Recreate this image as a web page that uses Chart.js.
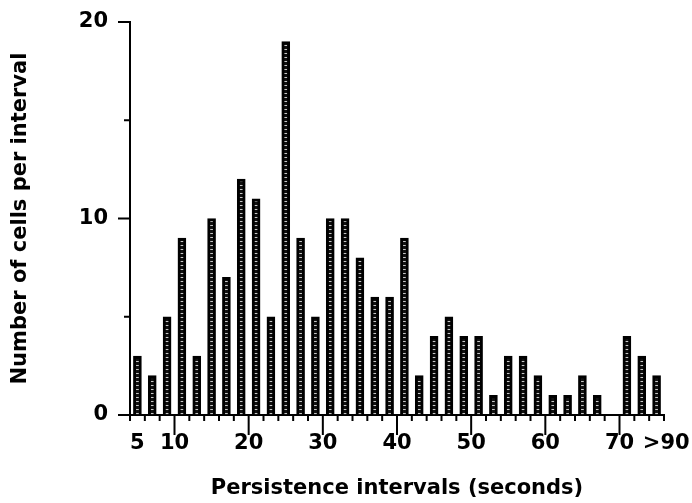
<!DOCTYPE html>
<html>
<head>
<meta charset="utf-8">
<script src="https://cdn.jsdelivr.net/npm/chart.js@4.4.1/dist/chart.umd.min.js"></script>
<style>
  html, body { margin: 0; padding: 0; background: #fff; }
  canvas { display: block; }
</style>
</head>
<body>
<canvas id="histChart" width="692" height="503"></canvas>
<script>
// Bin centres (seconds) and number of cells in each bin
const binCenters = [5, 7, 9, 11, 13, 15, 17, 19, 21, 23, 25, 27, 29, 31, 33, 35, 37, 39,
                    41, 43, 45, 47, 49, 51, 53, 55, 57, 59, 61, 63, 65, 67, 69, 71, 73, 75];
const cellCounts = [3, 2, 5, 9, 3, 10, 7, 12, 11, 5, 19, 9, 5, 10, 10, 8, 6, 6,
                    9, 2, 4, 5, 4, 4, 1, 3, 3, 2, 1, 1, 2, 1, 0, 4, 3, 2];

// Axis labels and tick marks
const xLabelValues = [5, 10, 20, 30, 40, 50, 60, 70, 76.3];
const xLabelTexts = ['5', '10', '20', '30', '40', '50', '60', '70', '>90'];
const xMinorTicks = [4, 6, 8, 12, 14, 16, 18, 22, 24, 26, 28, 32, 34, 36, 38, 42, 44, 46, 48,
                     52, 54, 56, 58, 62, 64, 66, 68, 72, 74, 76];
const xMajorTicks = [10, 20, 30, 40, 50, 60, 70];
const yLabelValues = [0, 10, 20];
const yMinorTicks = [5, 15];

const fontFamily = '"DejaVu Sans", sans-serif';

// dotted fill for the bars: black with a column of light dots
function makeDotPattern() {
  const c = document.createElement('canvas');
  c.width = 1;
  c.height = 4;
  const g = c.getContext('2d');
  g.fillStyle = '#111';
  g.fillRect(0, 0, 1, 4);
  g.fillStyle = '#c8c8c8';
  g.fillRect(0, 1, 1, 1);
  return g.createPattern(c, 'repeat');
}

// draws the short and long tick marks on both axes
const axisTicks = {
  id: 'axisTicks',
  afterDraw(chart) {
    const ctx = chart.ctx;
    const xs = chart.scales.x;
    const ys = chart.scales.y;
    const yBase = ys.getPixelForValue(0);
    const xBase = xs.left;
    ctx.save();
    ctx.strokeStyle = '#000';
    ctx.lineWidth = 2;
    ctx.beginPath();
    xMinorTicks.forEach(v => {
      const px = xs.getPixelForValue(v);
      ctx.moveTo(px, yBase);
      ctx.lineTo(px, yBase + 6);
    });
    xMajorTicks.forEach(v => {
      const px = xs.getPixelForValue(v);
      ctx.moveTo(px, yBase);
      ctx.lineTo(px, yBase + 20);
    });
    yLabelValues.forEach(v => {
      const py = ys.getPixelForValue(v);
      ctx.moveTo(xBase, py);
      ctx.lineTo(xBase - 12, py);
    });
    yMinorTicks.forEach(v => {
      const py = ys.getPixelForValue(v);
      ctx.moveTo(xBase, py);
      ctx.lineTo(xBase - 6, py);
    });
    ctx.stroke();
    ctx.restore();
  }
};

const histChart = new Chart('histChart', {
  type: 'bar',
  data: {
    datasets: [{
      label: 'Cells',
      data: binCenters.map((c, i) => ({ x: c, y: cellCounts[i] })),
      backgroundColor: makeDotPattern(),
      borderColor: '#000',
      borderWidth: 3,
      borderSkipped: 'start',
      barThickness: 8
    }]
  },
  options: {
    responsive: false,
    animation: false,
    layout: { padding: { top: 22, right: 28, left: 0, bottom: 0 } },
    plugins: {
      legend: { display: false },
      tooltip: { enabled: false }
    },
    scales: {
      x: {
        type: 'linear',
        min: 4,
        max: 76,
        offset: false,
        grid: { display: false, drawTicks: false, offset: false },
        border: { display: true, color: '#000', width: 2 },
        afterBuildTicks: s => { s.ticks = xLabelValues.map(v => ({ value: v })); },
        afterFit: s => { s.height = 88; s.paddingLeft = 0; s.paddingRight = 0; },
        ticks: {
          autoSkip: false,
          maxRotation: 0,
          padding: 16,
          color: '#000',
          font: { family: fontFamily, size: 21, weight: 'bold' },
          callback: v => xLabelTexts[xLabelValues.indexOf(v)]
        },
        title: {
          display: true,
          text: 'Persistence intervals (seconds)',
          color: '#000',
          font: { family: fontFamily, size: 21, weight: 'bold' },
          padding: { top: 0, bottom: 2 }
        }
      },
      y: {
        min: 0,
        max: 20,
        grid: { display: false, drawTicks: false },
        border: { display: true, color: '#000', width: 2 },
        afterBuildTicks: s => { s.ticks = yLabelValues.map(v => ({ value: v })); },
        afterFit: s => { s.width = 130; s.paddingTop = 0; s.paddingBottom = 0; },
        ticks: {
          padding: 22,
          color: '#000',
          font: { family: fontFamily, size: 21, weight: 'bold' }
        },
        title: {
          display: true,
          text: 'Number of cells per interval',
          color: '#000',
          font: { family: fontFamily, size: 21, weight: 'bold' },
          padding: { top: 8, bottom: 0 }
        }
      }
    }
  },
  plugins: [axisTicks]
});
</script>
</body>
</html>
